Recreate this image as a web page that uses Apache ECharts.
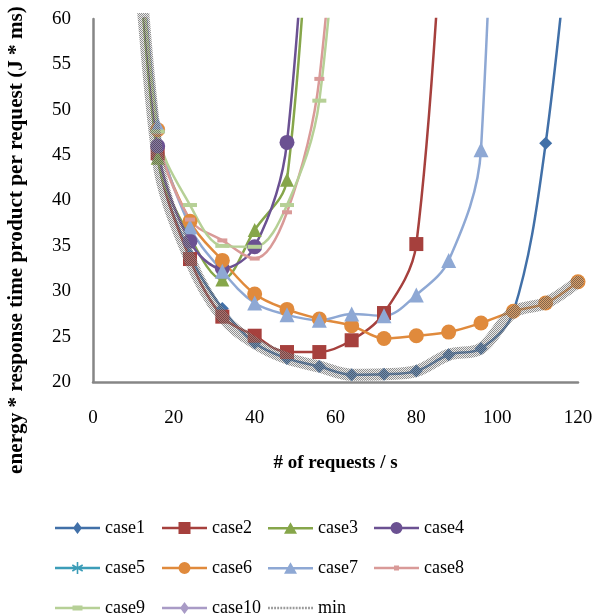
<!DOCTYPE html>
<html>
<head>
<meta charset="utf-8">
<script src="https://cdn.jsdelivr.net/npm/echarts@6/dist/echarts.min.js"></script>
<style>
  html, body { margin: 0; padding: 0; background: #fff; }
  #chart { width: 597px; height: 615px; }
</style>
</head>
<body>
<div id="chart"></div>
<script>
// requests per second (x positions of every measured point)
var requests = [8, 16, 24, 32, 40, 48, 56, 64, 72, 80, 88, 96, 104, 112, 120];

// energy * response time product per request
var case1 = [92, 45.0, 34.0, 28.1, 24.3, 22.6, 21.7, 20.8, 20.85, 21.2, 23.0, 23.7, 27.7, 46.3, 80];
var case2 = [92, 45.2, 33.55, 27.2, 25.1, 23.3, 23.3, 24.6, 27.6, 35.2, 85];
var case3 = [90, 44.7, 36.0, 31.3, 36.75, 42.3, 95];
var case4 = [92, 46.0, 35.5, 32.5, 34.9, 46.4, 100];
var case5 = [];
var case6 = [92, 47.8, 37.7, 33.4, 29.7, 28.0, 26.95, 26.2, 24.8, 25.1, 25.5, 26.5, 27.8, 28.7, 31.05];
var case7 = [92, 48.3, 37.1, 32.2, 28.7, 27.4, 26.8, 27.5, 27.3, 29.6, 33.4, 45.6, 160];
var case8 = [92, 47.5, 37.9, 35.6, 33.6, 38.7, 53.4, 100];
var case9 = [92, 47.6, 39.5, 35.0, 34.9, 39.5, 51.0, 95];
var case10 = [];
var minVals = [90, 44.7, 33.5, 27.2, 24.3, 22.6, 21.7, 20.8, 20.85, 21.2, 23.0, 23.7, 27.7, 28.7, 31.05];

var xTicks = [0, 20, 40, 60, 80, 100, 120];
var yTicks = [20, 25, 30, 35, 40, 45, 50, 55, 60];

// legend rows, 4 columns
var legendRows = [
    ['case1', 'case2', 'case3', 'case4'],
    ['case5', 'case6', 'case7', 'case8'],
    ['case9', 'case10', 'min']
];

function pairs(vals) {
    var res = [];
    for (var i = 0; i < vals.length; i++) {
        res.push([requests[i], vals[i]]);
    }
    return res;
}

// hatched grey pattern for the "min" band (fine checkerboard, see-through)
var pc = document.createElement('canvas');
pc.width = 2; pc.height = 2;
var pctx = pc.getContext('2d');
pctx.fillStyle = 'rgba(200,200,200,0.35)';
pctx.fillRect(0, 0, 2, 2);
pctx.fillStyle = 'rgba(30,30,30,0.45)';
pctx.fillRect(0, 0, 1, 1);
pctx.fillRect(1, 1, 1, 1);

var asterisk = 'path://M-0.8,-6 L0.8,-6 L0.8,6 L-0.8,6 Z M-5.6,-2.3 L-4.8,-3.7 L5.6,2.3 L4.8,3.7 Z M-5.6,2.3 L4.8,-3.7 L5.6,-2.3 L-4.8,3.7 Z';

// legend icons: line + marker, drawn 1:1 in a 45px wide box
var bar = 'M0,-1.25 L45,-1.25 L45,1.25 L0,1.25 Z ';
var legendIcons = {
    case1: 'path://' + bar + 'M22.5,-6 L27,0 L22.5,6 L18,0 Z',
    case2: 'path://' + bar + 'M16.5,-6 L28.5,-6 L28.5,6 L16.5,6 Z',
    case3: 'path://' + bar + 'M22.5,-6 L29,5.5 L16,5.5 Z',
    case4: 'path://' + bar + 'M28.5,0 A6,6 0 1,1 16.5,0 A6,6 0 1,1 28.5,0 Z',
    case5: 'path://' + bar + 'M21.7,-6 L23.3,-6 L23.3,6 L21.7,6 Z M16.9,-2.3 L17.7,-3.7 L28.1,2.3 L27.3,3.7 Z M16.9,2.3 L27.3,-3.7 L28.1,-2.3 L17.7,3.7 Z',
    case6: 'path://' + bar + 'M28.5,0 A6,6 0 1,1 16.5,0 A6,6 0 1,1 28.5,0 Z',
    case7: 'path://' + bar + 'M22.5,-6 L29,5.5 L16,5.5 Z',
    case8: 'path://' + bar + 'M20,-2.5 L25,-2.5 L25,2.5 L20,2.5 Z',
    case9: 'path://' + bar + 'M17.5,-2.5 L27.5,-2.5 L27.5,2.5 L17.5,2.5 Z',
    case10: 'path://' + bar + 'M22.5,-6 L27,0 L22.5,6 L18,0 Z'
};
var dots = 'path://';
for (var d = 0; d < 45; d += 3) {
    dots += 'M' + d + ',-1.2 L' + (d + 1.8) + ',-1.2 L' + (d + 1.8) + ',1.2 L' + d + ',1.2 Z ';
}
legendIcons.min = dots;

var font = '"Liberation Serif", "Times New Roman", serif';

function mk(name, vals, color, symbol, size) {
    return {
        name: name,
        type: 'line',
        data: pairs(vals),
        smooth: 0.35,
        symbol: symbol,
        symbolSize: size,
        showAllSymbol: true,
        color: color,
        lineStyle: { width: 2.5, color: color },
        itemStyle: { color: color }
    };
}

var series = [
    mk('case1', case1, '#4170A8', 'diamond', 13),
    mk('case2', case2, '#A6403D', 'rect', 14),
    mk('case3', case3, '#86A64A', 'triangle', 14),
    mk('case4', case4, '#6B5192', 'circle', 15),
    mk('case5', case5, '#3C9DB8', asterisk, 12),
    mk('case6', case6, '#E08A3C', 'circle', 15),
    mk('case7', case7, '#8EA8D4', 'triangle', 15),
    mk('case8', case8, '#D99A98', 'rect', [10, 4]),
    mk('case9', case9, '#B6D096', 'rect', [14, 4]),
    mk('case10', case10, '#A99BC6', 'diamond', 13),
    {
        name: 'min',
        type: 'line',
        data: pairs(minVals),
        smooth: 0.35,
        showSymbol: false,
        symbol: 'none',
        color: '#9a9a9a',
        lineStyle: { width: 12, cap: 'round', join: 'round', color: { image: pc, repeat: 'repeat' } },
        z: 5
    }
];

// one legend per item so the columns line up like the original
var colLeft = [50, 157, 263, 369];
var rowTop = [514, 554, 594];
var legends = [];
legendRows.forEach(function (row, r) {
    row.forEach(function (n, c) {
        legends.push({
            top: rowTop[r],
            left: colLeft[c],
            itemWidth: 45,
            itemHeight: 14,
            selectedMode: false,
            symbolKeepAspect: true,
            textStyle: { fontFamily: font, fontSize: 18, color: '#000' },
            data: [{ name: n, icon: legendIcons[n] }]
        });
    });
});

var myChart = echarts.init(document.getElementById('chart'));
var option = {
    backgroundColor: '#fff',
    animation: false,
    grid: { left: 93, right: 19, top: 19, bottom: 233 },
    legend: legends,
    xAxis: {
        type: 'value',
        min: xTicks[0],
        max: xTicks[xTicks.length - 1],
        interval: 20,
        name: '# of requests / s',
        nameLocation: 'middle',
        nameGap: 72,
        nameTextStyle: { fontFamily: font, fontSize: 19, fontWeight: 'bold', color: '#000' },
        axisLine: { lineStyle: { color: '#868686', width: 2.5 } },
        axisTick: { show: false },
        splitLine: { show: false },
        axisLabel: { fontFamily: font, fontSize: 19, color: '#000', margin: 27 }
    },
    yAxis: {
        type: 'value',
        min: yTicks[0],
        max: yTicks[yTicks.length - 1],
        interval: 5,
        axisLine: { show: true, lineStyle: { color: '#868686', width: 2.5 } },
        axisTick: { show: false },
        splitLine: { show: false },
        axisLabel: { fontFamily: font, fontSize: 19, color: '#000', margin: 22 }
    },
    graphic: [{
        type: 'text',
        x: 17,
        y: 240,
        rotation: Math.PI / 2,
        style: {
            text: 'energy * response time product per request (J * ms)',
            font: 'bold 21.2px ' + font,
            fill: '#000',
            align: 'center',
            verticalAlign: 'middle'
        }
    }],
    series: series
};
myChart.setOption(option);
</script>
</body>
</html>
